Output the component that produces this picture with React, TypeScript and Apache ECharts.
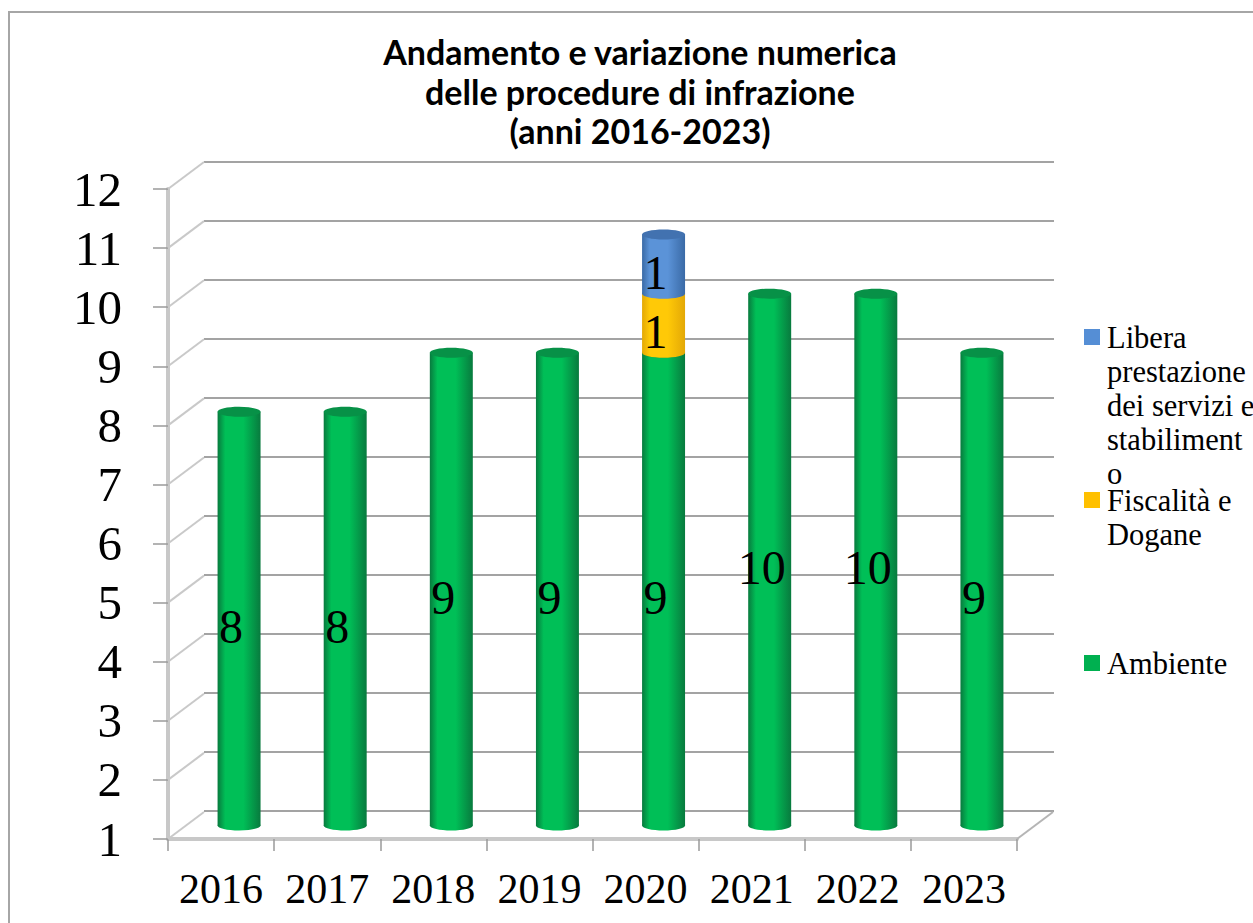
import React, { useEffect, useRef } from "react";
import * as echarts from "echarts";

const years = ["2016", "2017", "2018", "2019", "2020", "2021", "2022", "2023"];
const ambiente = [8, 8, 9, 9, 9, 10, 10, 9];
const fiscalita = [0, 0, 0, 0, 1, 0, 0, 0];
const libera = [0, 0, 0, 0, 1, 0, 0, 0];
const yTicks = [1, 2, 3, 4, 5, 6, 7, 8, 9, 10, 11, 12];
const titleText = "Andamento e variazione numerica\ndelle procedure di infrazione\n(anni 2016-2023)";
const legendLibera = "Libera\nprestazione\ndei servizi e\nstabiliment\no";
const legendFiscalita = "Fiscalità e\nDogane";
const legendAmbiente = "Ambiente";

const SERIF = '"Liberation Serif", serif';
const AXIS_MIN = 1;

type Tone = { edge: string; mid: string; cap: string };
const GREEN: Tone = { edge: "#087a3e", mid: "#00bf57", cap: "#079147" };
const YELLOW: Tone = { edge: "#e3a806", mid: "#ffc907", cap: "#ffb900" };
const BLUE: Tone = { edge: "#3a6aa6", mid: "#5b93d8", cap: "#4272b0" };

function barSeries(name: string, values: number[], bases: number[], tone: Tone) {
  const data = values
    .map((v, i) => [i, Math.max(bases[i], AXIS_MIN), bases[i] + v, v])
    .filter((d) => d[3] > 0);
  return {
    type: "custom",
    name,
    xAxisIndex: 2,
    yAxisIndex: 2,
    z: 5,
    silent: true,
    data,
    encode: { x: 0, y: 2 },
    renderItem: (_p: any, api: any) => {
      const cat = api.value(0);
      const low = api.coord([cat, api.value(1)]);
      const high = api.coord([cat, api.value(2)]);
      const w = api.size([1, 0])[0] * 0.405;
      const left = low[0] - w / 2;
      const fill = new echarts.graphic.LinearGradient(0, 0, 1, 0, [
        { offset: 0, color: tone.edge },
        { offset: 0.18, color: tone.mid },
        { offset: 0.6, color: tone.mid },
        { offset: 1, color: tone.edge },
      ]);
      return {
        type: "group",
        children: [
          { type: "ellipse", shape: { cx: low[0], cy: low[1], rx: w / 2, ry: 5 }, style: { fill } },
          { type: "rect", shape: { x: left, y: high[1], width: w, height: low[1] - high[1] }, style: { fill } },
          { type: "ellipse", shape: { cx: high[0], cy: high[1], rx: w / 2, ry: 5 }, style: { fill: tone.cap } },
          {
            type: "text",
            z2: 20,
            style: {
              text: String(api.value(3)),
              x: low[0] - 8,
              y: (low[1] + high[1]) / 2 + 8,
              align: "center",
              verticalAlign: "middle",
              font: `48px ${SERIF}`,
              fill: "#000",
            },
          },
        ],
      };
    },
  };
}

const wallSeries = {
  type: "custom",
  xAxisIndex: 0,
  yAxisIndex: 0,
  z: 1,
  silent: true,
  data: yTicks.map((t) => [0, t]),
  encode: { y: 1 },
  renderItem: (_p: any, api: any) => {
    const band = api.size([1, 0])[0];
    const p = api.coord([0, api.value(1)]);
    const x0 = p[0] - band / 2;
    return {
      type: "line",
      shape: { x1: x0, y1: p[1], x2: x0 + 36, y2: p[1] - 27 },
      style: { stroke: "#c9c9c9", lineWidth: 2 },
    };
  },
};

const floorEdgeSeries = {
  type: "custom",
  xAxisIndex: 0,
  yAxisIndex: 0,
  z: 1,
  silent: true,
  data: [[years.length - 1, AXIS_MIN]],
  encode: { x: 0, y: 1 },
  renderItem: (_p: any, api: any) => {
    const band = api.size([1, 0])[0];
    const p = api.coord([api.value(0), api.value(1)]);
    const x0 = p[0] + band / 2;
    return {
      type: "line",
      shape: { x1: x0, y1: p[1], x2: x0 + 36, y2: p[1] - 27 },
      style: { stroke: "#b5b5b5", lineWidth: 2 },
    };
  },
};

function legendItem(y: number, color: string, label: string, textTop: number) {
  return [
    { type: "rect", shape: { x: 1084, y, width: 16, height: 16 }, style: { fill: color } },
    {
      type: "text",
      x: 1107,
      y: textTop,
      style: {
        text: label,
        font: `30.5px ${SERIF}`,
        lineHeight: 34,
        fill: "#000",
        align: "left",
        verticalAlign: "top",
      },
    },
  ];
}

function bandX(grid: number, show: boolean) {
  return {
    type: "category",
    gridIndex: grid,
    data: years,
    show,
    boundaryGap: true,
    axisLine: { show, lineStyle: { color: "#c8c8c8", width: 4 } },
    axisTick: { show, length: 12, lineStyle: { color: "#9a9a9a", width: 1.5 } },
    axisLabel: { show, interval: 0, margin: 29, fontFamily: SERIF, fontSize: 42, color: "#000" },
  };
}

export default function App() {
  const ref = useRef<HTMLDivElement>(null);
  useEffect(() => {
    const chart = echarts.init(ref.current!, undefined, { renderer: "svg" });
    const fiscalBase = ambiente.map((v) => v);
    const liberaBase = ambiente.map((v, i) => v + fiscalita[i]);
    chart.setOption({
      animation: false,
      backgroundColor: "#fff",
      title: {
        text: titleText,
        left: 635,
        top: 27,
        textAlign: "center",
        textStyle: { fontFamily: "Lato", fontWeight: "bold", fontSize: 34, lineHeight: 39.5, color: "#000" },
      },
      grid: [
        { left: 168, top: 189, width: 849, height: 650 },
        { left: 204, top: 162, width: 850, height: 649 },
        { left: 186, top: 175.5, width: 849, height: 650 },
      ],
      xAxis: [bandX(0, true), bandX(1, false), bandX(2, false)],
      yAxis: [
        {
          type: "value",
          gridIndex: 0,
          min: AXIS_MIN,
          max: 12,
          interval: 1,
          axisLine: { show: true, lineStyle: { color: "#c8c8c8", width: 4 } },
          axisTick: { show: true, length: 15, lineStyle: { color: "#9a9a9a", width: 1.5 } },
          axisLabel: { margin: 46, fontFamily: SERIF, fontSize: 49, color: "#000", padding: [7, 0, 0, 0] },
          splitLine: { show: false },
        },
        {
          type: "value",
          gridIndex: 1,
          min: AXIS_MIN,
          max: 12,
          interval: 1,
          axisLine: { show: false },
          axisTick: { show: false },
          axisLabel: { show: false },
          splitLine: { show: true, lineStyle: { color: "#a3a3a3", width: 2 } },
        },
        { type: "value", gridIndex: 2, min: AXIS_MIN, max: 12, interval: 1, show: false, splitLine: { show: false } },
      ],
      series: [
        wallSeries,
        floorEdgeSeries,
        barSeries("Ambiente", ambiente, ambiente.map(() => 0), GREEN),
        barSeries("Fiscalità e Dogane", fiscalita, fiscalBase, YELLOW),
        barSeries("Libera prestazione dei servizi e stabilimento", libera, liberaBase, BLUE),
      ],
      graphic: [
        {
          type: "polyline",
          shape: { points: [[9, 923], [9, 12], [1253, 12]] },
          style: { stroke: "#a6a6a6", lineWidth: 2, fill: "none" },
        },
        ...legendItem(329, "#558ed5", legendLibera, 321),
        ...legendItem(492, "#ffc000", legendFiscalita, 484),
        ...legendItem(655, "#00b050", legendAmbiente, 647),
      ],
    });
    return () => chart.dispose();
  }, []);
  return <div ref={ref} style={{ position: "absolute", left: 0, top: 0, width: 1253, height: 923 }} />;
}
